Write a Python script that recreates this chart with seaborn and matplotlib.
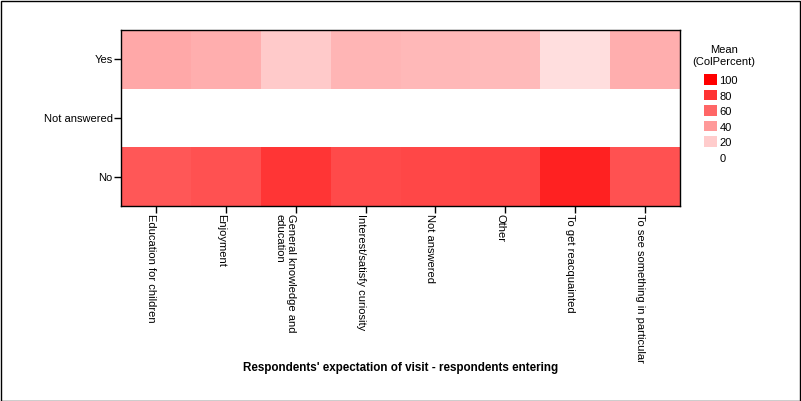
import numpy as np
import pandas as pd
import matplotlib
matplotlib.use("Agg")
import matplotlib.pyplot as plt
import seaborn as sns
from matplotlib.colors import LinearSegmentedColormap
from matplotlib.patches import Patch, Rectangle

categories = ["Education for children", "Enjoyment", "General knowledge and\neducation",
              "Interest/satisfy curiosity", "Not answered", "Other",
              "To get reacquainted", "To see something in particular"]
rows = ["Yes", "Not answered", "No"]
yes_vals = [34, 32, 21, 29, 28, 27, 13, 32]
na_vals = [0, 0, 0, 0, 0, 0, 0, 0]
no_vals = [66, 68, 79, 71, 72, 73, 87, 68]
legend_levels = [100, 80, 60, 40, 20, 0]

df = pd.DataFrame([yes_vals, na_vals, no_vals], index=rows, columns=categories)

plt.rcParams['font.family'] = ['Liberation Sans', 'DejaVu Sans']
cmap = LinearSegmentedColormap.from_list("wr", ["#FFFFFF", "#FF0000"])

fig = plt.figure(figsize=(8.01, 4.02), dpi=100)
ax = fig.add_axes([121/801, 1-207/402, (680-121)/801, (207-31)/402])
sns.heatmap(df, ax=ax, cmap=cmap, vmin=0, vmax=100, cbar=False, linewidths=0)

for s in ax.spines.values():
    s.set_visible(True)
    s.set_linewidth(1)
    s.set_color("black")
ax.tick_params(axis="both", length=5, width=1, color="black", labelsize=8)
ax.tick_params(axis="x", pad=0)
ax.tick_params(axis="y", pad=1)
ax.set_yticklabels(rows, rotation=0)
ax.set_xticklabels(categories, rotation=270, ha="left", va="top", rotation_mode="anchor")
ax.set_ylabel("")
ax.set_xlabel("Respondents' expectation of visit - respondents entering",
              fontsize=8.4, fontweight="bold")
ax.xaxis.set_label_coords(0.5, -(362-207)/176)

handles = [Patch(facecolor=cmap(v/100), edgecolor="none", label=str(v)) for v in legend_levels]
leg = fig.legend(handles=handles, frameon=False,
                 loc="upper left", bbox_to_anchor=(704/801, 1-75/402),
                 fontsize=8, handlelength=1.15, handleheight=1.1,
                 handletextpad=0.25, labelspacing=0.4, borderaxespad=0, borderpad=0)
fig.text(724/801, 1-56/402, "Mean\n(ColPercent)", ha="center", va="center",
         fontsize=8, multialignment="center", linespacing=1.2)

fig.patches.append(Rectangle((0.5/801, 0.5/402), 799/801, 400/402, transform=fig.transFigure,
                             fill=False, edgecolor="black", linewidth=1))

fig.savefig("out.png", dpi=100)
